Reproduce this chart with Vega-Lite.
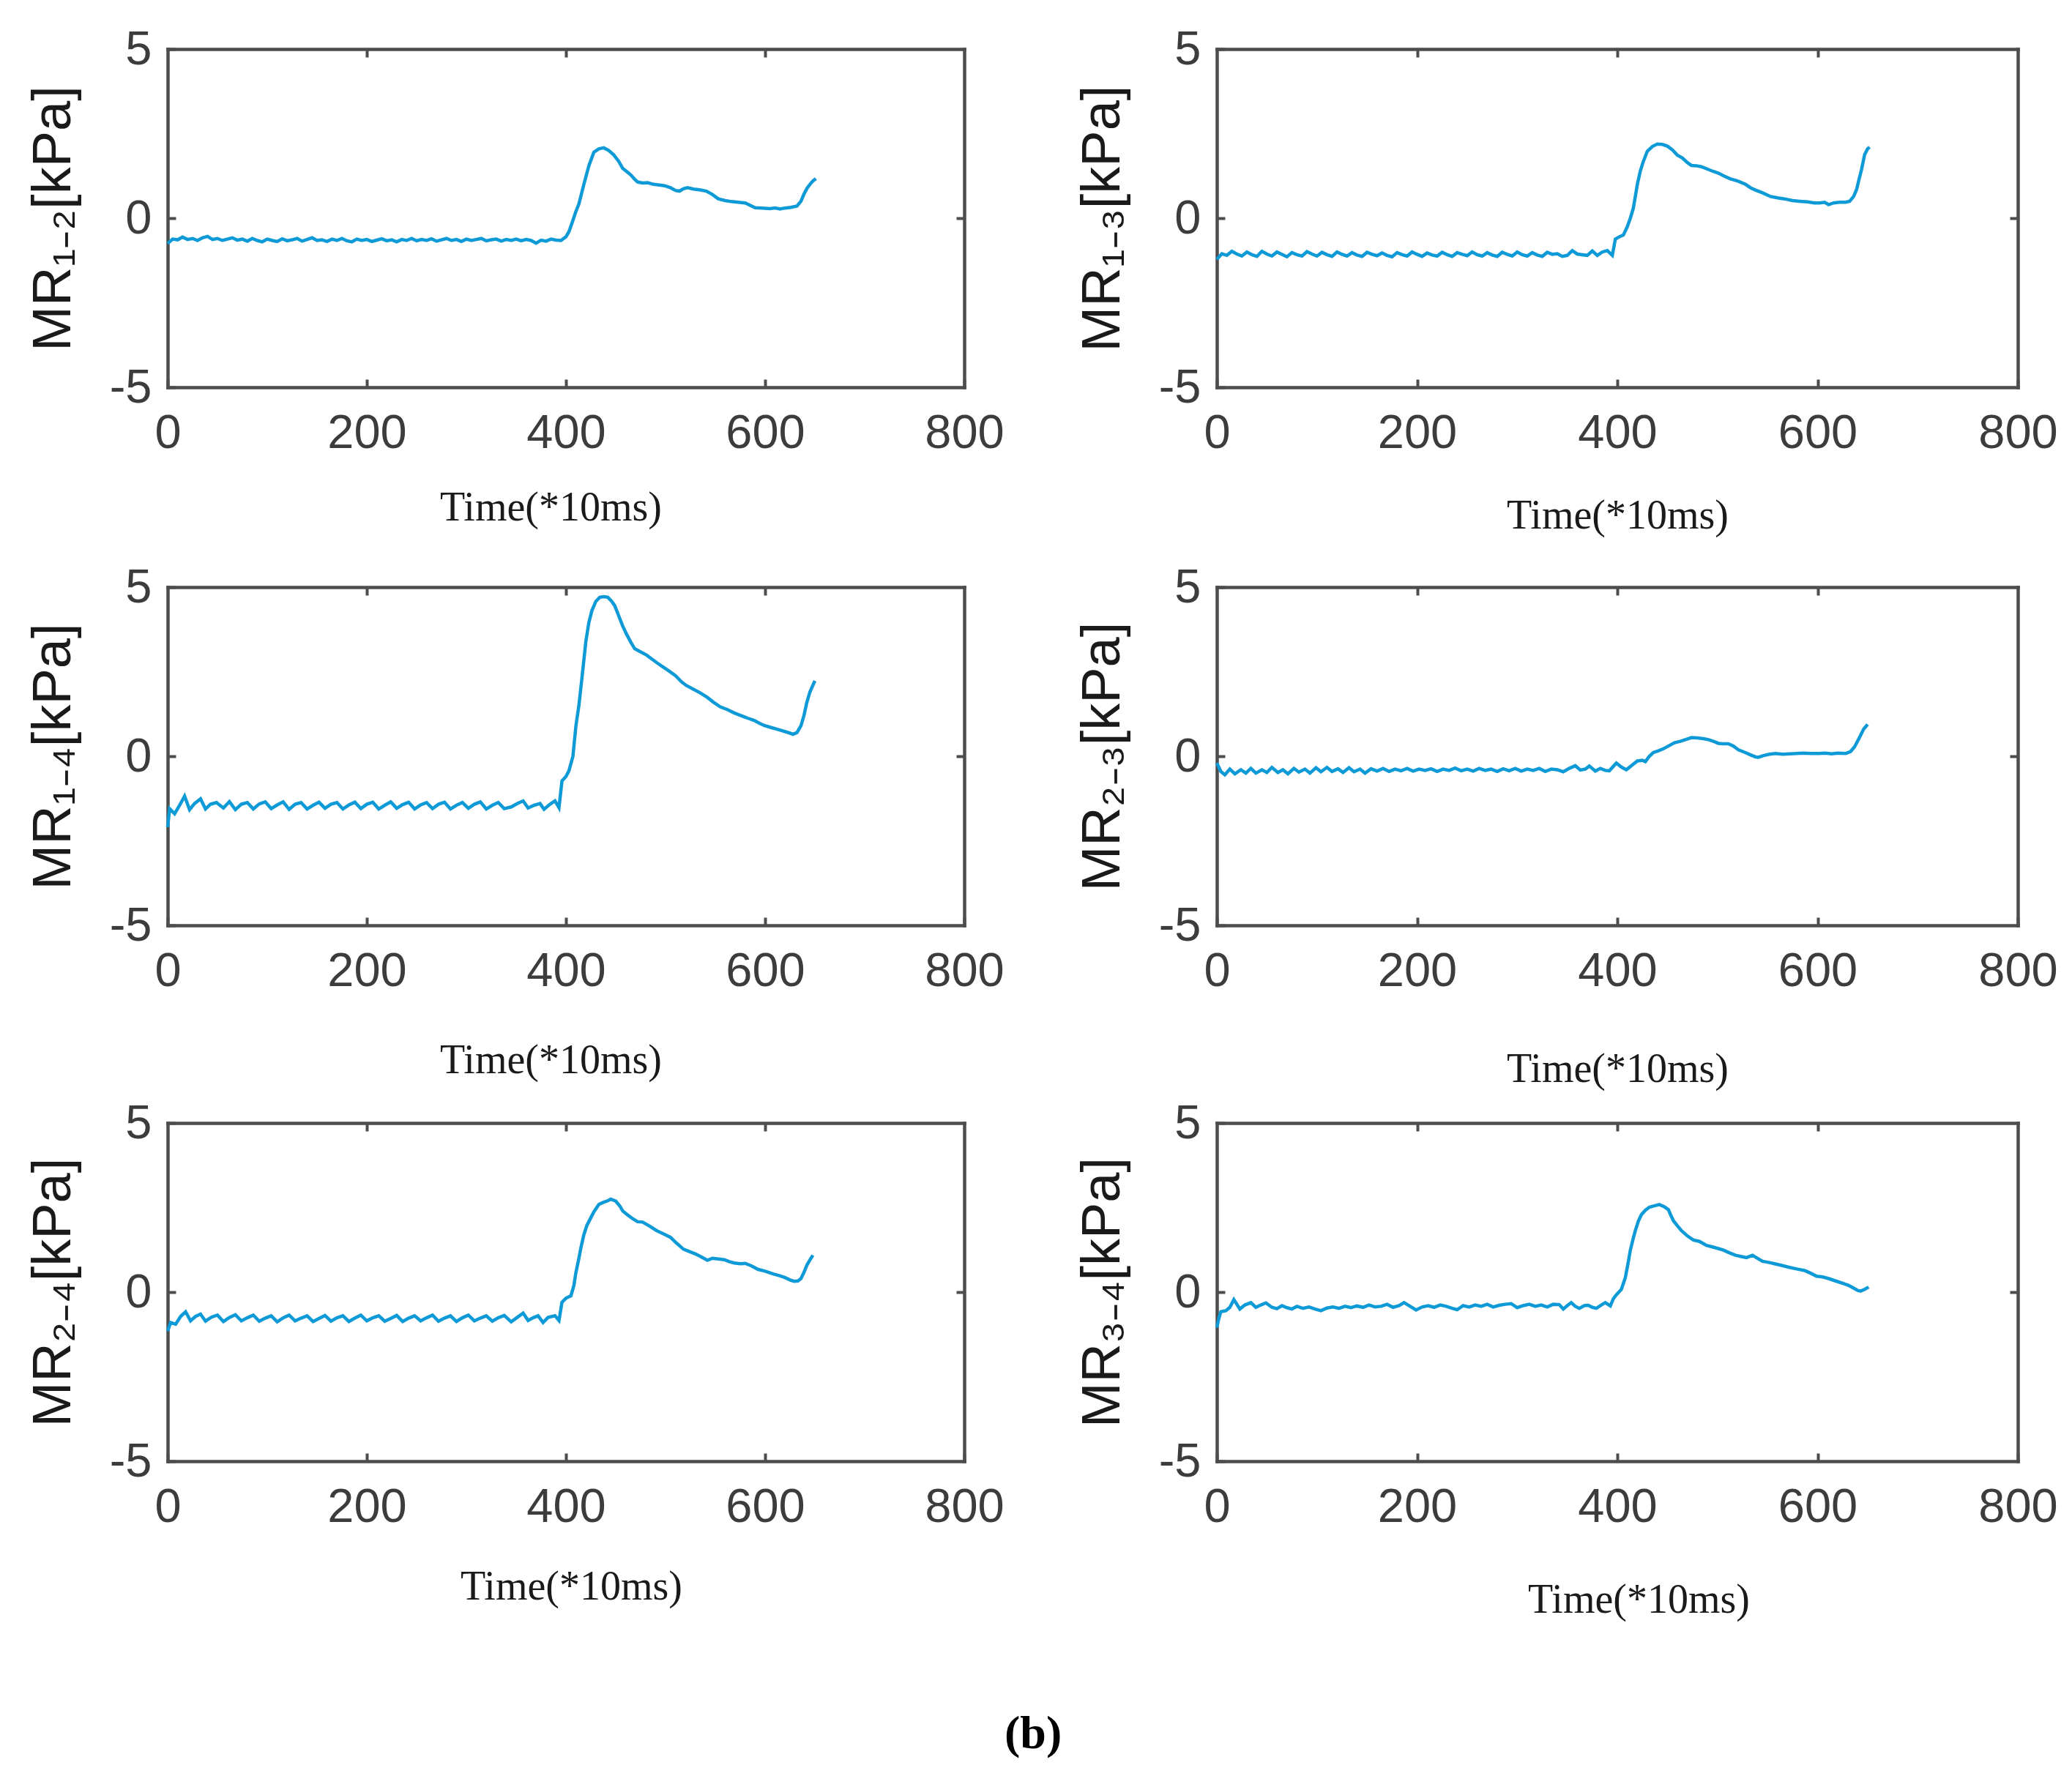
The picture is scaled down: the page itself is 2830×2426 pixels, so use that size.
{
  "$schema": "https://vega.github.io/schema/vega-lite/v6.json",
  "padding": {"left": 35, "top": 35, "right": 10, "bottom": 10},
  "background": "white",
  "title": {"text": "(b)", "orient": "bottom", "anchor": "middle", "font": "Liberation Serif", "fontSize": 64, "fontWeight": "bold", "color": "#000000", "offset": 124, "dx": -12},
  "spacing": 14,
  "vconcat": [
    {
      "spacing": 38,
      "vconcat": [
        {
          "spacing": 96,
          "hconcat": [
            {
              "width": 1088, "height": 462,
              "data": {"name": "d12"},
              "layer": [
                {"mark": {"type": "line", "color": "#0e9ad7", "strokeWidth": 4.5},
                 "encoding": {
                   "x": {"field": "t", "type": "quantitative", "scale": {"domain": [0, 800], "nice": false}, "axis": {"orient": "bottom", "title": "Time(*10ms)", "values": [0, 200, 400, 600, 800], "titleX": 523, "titleY": 164}},
                   "y": {"field": "v", "type": "quantitative", "scale": {"domain": [-5, 5], "nice": false}, "axis": {"orient": "left", "title": "MR₁₋₂[kPa]", "values": [-5, 0, 5], "titleX": -156}}}},
                {"mark": {"type": "line", "strokeOpacity": 0},
                 "encoding": {
                   "x": {"field": "t", "type": "quantitative", "axis": {"orient": "top", "labels": false, "title": null, "values": [200, 400, 600]}},
                   "y": {"field": "v", "type": "quantitative", "axis": {"orient": "right", "labels": false, "title": null, "values": [0]}}}}
              ],
              "resolve": {"axis": {"x": "independent", "y": "independent"}}
            },
            {
              "width": 1094, "height": 462,
              "data": {"name": "d13"},
              "layer": [
                {"mark": {"type": "line", "color": "#0e9ad7", "strokeWidth": 4.5},
                 "encoding": {
                   "x": {"field": "t", "type": "quantitative", "scale": {"domain": [0, 800], "nice": false}, "axis": {"orient": "bottom", "title": "Time(*10ms)", "values": [0, 200, 400, 600, 800], "titleX": 547, "titleY": 175}},
                   "y": {"field": "v", "type": "quantitative", "scale": {"domain": [-5, 5], "nice": false}, "axis": {"orient": "left", "title": "MR₁₋₃[kPa]", "values": [-5, 0, 5], "titleX": -156}}}},
                {"mark": {"type": "line", "strokeOpacity": 0},
                 "encoding": {
                   "x": {"field": "t", "type": "quantitative", "axis": {"orient": "top", "labels": false, "title": null, "values": [200, 400, 600]}},
                   "y": {"field": "v", "type": "quantitative", "axis": {"orient": "right", "labels": false, "title": null, "values": [0]}}}}
              ],
              "resolve": {"axis": {"x": "independent", "y": "independent"}}
            }
          ]
        },
        {
          "spacing": 96,
          "hconcat": [
            {
              "width": 1088, "height": 462,
              "data": {"name": "d14"},
              "layer": [
                {"mark": {"type": "line", "color": "#0e9ad7", "strokeWidth": 4.5},
                 "encoding": {
                   "x": {"field": "t", "type": "quantitative", "scale": {"domain": [0, 800], "nice": false}, "axis": {"orient": "bottom", "title": "Time(*10ms)", "values": [0, 200, 400, 600, 800], "titleX": 523, "titleY": 184}},
                   "y": {"field": "v", "type": "quantitative", "scale": {"domain": [-5, 5], "nice": false}, "axis": {"orient": "left", "title": "MR₁₋₄[kPa]", "values": [-5, 0, 5], "titleX": -156}}}},
                {"mark": {"type": "line", "strokeOpacity": 0},
                 "encoding": {
                   "x": {"field": "t", "type": "quantitative", "axis": {"orient": "top", "labels": false, "title": null, "values": [200, 400, 600]}},
                   "y": {"field": "v", "type": "quantitative", "axis": {"orient": "right", "labels": false, "title": null, "values": [0]}}}}
              ],
              "resolve": {"axis": {"x": "independent", "y": "independent"}}
            },
            {
              "width": 1094, "height": 462,
              "data": {"name": "d23"},
              "layer": [
                {"mark": {"type": "line", "color": "#0e9ad7", "strokeWidth": 4.5},
                 "encoding": {
                   "x": {"field": "t", "type": "quantitative", "scale": {"domain": [0, 800], "nice": false}, "axis": {"orient": "bottom", "title": "Time(*10ms)", "values": [0, 200, 400, 600, 800], "titleX": 547, "titleY": 196}},
                   "y": {"field": "v", "type": "quantitative", "scale": {"domain": [-5, 5], "nice": false}, "axis": {"orient": "left", "title": "MR₂₋₃[kPa]", "values": [-5, 0, 5], "titleX": -156}}}},
                {"mark": {"type": "line", "strokeOpacity": 0},
                 "encoding": {
                   "x": {"field": "t", "type": "quantitative", "axis": {"orient": "top", "labels": false, "title": null, "values": [200, 400, 600]}},
                   "y": {"field": "v", "type": "quantitative", "axis": {"orient": "right", "labels": false, "title": null, "values": [0]}}}}
              ],
              "resolve": {"axis": {"x": "independent", "y": "independent"}}
            }
          ]
        }
      ]
    },
    {
      "spacing": 96,
      "hconcat": [
        {
          "width": 1088, "height": 462,
          "data": {"name": "d24"},
          "layer": [
            {"mark": {"type": "line", "color": "#0e9ad7", "strokeWidth": 4.5},
             "encoding": {
               "x": {"field": "t", "type": "quantitative", "scale": {"domain": [0, 800], "nice": false}, "axis": {"orient": "bottom", "title": "Time(*10ms)", "values": [0, 200, 400, 600, 800], "titleX": 551, "titleY": 171}},
               "y": {"field": "v", "type": "quantitative", "scale": {"domain": [-5, 5], "nice": false}, "axis": {"orient": "left", "title": "MR₂₋₄[kPa]", "values": [-5, 0, 5], "titleX": -156}}}},
            {"mark": {"type": "line", "strokeOpacity": 0},
             "encoding": {
               "x": {"field": "t", "type": "quantitative", "axis": {"orient": "top", "labels": false, "title": null, "values": [200, 400, 600]}},
               "y": {"field": "v", "type": "quantitative", "axis": {"orient": "right", "labels": false, "title": null, "values": [0]}}}}
          ],
          "resolve": {"axis": {"x": "independent", "y": "independent"}}
        },
        {
          "width": 1094, "height": 462,
          "data": {"name": "d34"},
          "layer": [
            {"mark": {"type": "line", "color": "#0e9ad7", "strokeWidth": 4.5},
             "encoding": {
               "x": {"field": "t", "type": "quantitative", "scale": {"domain": [0, 800], "nice": false}, "axis": {"orient": "bottom", "title": "Time(*10ms)", "values": [0, 200, 400, 600, 800], "titleX": 576, "titleY": 189}},
               "y": {"field": "v", "type": "quantitative", "scale": {"domain": [-5, 5], "nice": false}, "axis": {"orient": "left", "title": "MR₃₋₄[kPa]", "values": [-5, 0, 5], "titleX": -156}}}},
            {"mark": {"type": "line", "strokeOpacity": 0},
             "encoding": {
               "x": {"field": "t", "type": "quantitative", "axis": {"orient": "top", "labels": false, "title": null, "values": [200, 400, 600]}},
               "y": {"field": "v", "type": "quantitative", "axis": {"orient": "right", "labels": false, "title": null, "values": [0]}}}}
          ],
          "resolve": {"axis": {"x": "independent", "y": "independent"}}
        }
      ]
    }
  ],
  "datasets": {
    "d12": [
      {"t":0,"v":-0.75},{"t":5,"v":-0.62},{"t":10,"v":-0.64},{"t":15,"v":-0.56},{"t":20,"v":-0.63},{"t":25,"v":-0.6},{"t":30,"v":-0.66},{"t":35,"v":-0.58},{"t":40,"v":-0.54},{"t":45,"v":-0.63},
      {"t":50,"v":-0.6},{"t":55,"v":-0.66},{"t":60,"v":-0.62},{"t":65,"v":-0.58},{"t":70,"v":-0.65},{"t":75,"v":-0.62},{"t":80,"v":-0.68},{"t":85,"v":-0.6},{"t":90,"v":-0.66},{"t":95,"v":-0.7},
      {"t":100,"v":-0.62},{"t":105,"v":-0.66},{"t":110,"v":-0.69},{"t":115,"v":-0.61},{"t":120,"v":-0.67},{"t":125,"v":-0.64},{"t":130,"v":-0.6},{"t":135,"v":-0.68},{"t":140,"v":-0.63},{"t":145,"v":-0.58},
      {"t":150,"v":-0.66},{"t":155,"v":-0.64},{"t":160,"v":-0.69},{"t":165,"v":-0.62},{"t":170,"v":-0.66},{"t":175,"v":-0.6},{"t":180,"v":-0.67},{"t":185,"v":-0.7},{"t":190,"v":-0.62},{"t":195,"v":-0.66},
      {"t":200,"v":-0.63},{"t":205,"v":-0.69},{"t":210,"v":-0.65},{"t":215,"v":-0.61},{"t":220,"v":-0.67},{"t":225,"v":-0.64},{"t":230,"v":-0.7},{"t":235,"v":-0.63},{"t":240,"v":-0.66},{"t":245,"v":-0.6},
      {"t":250,"v":-0.67},{"t":255,"v":-0.63},{"t":260,"v":-0.66},{"t":265,"v":-0.61},{"t":270,"v":-0.68},{"t":275,"v":-0.64},{"t":280,"v":-0.6},{"t":285,"v":-0.66},{"t":290,"v":-0.63},{"t":295,"v":-0.69},
      {"t":300,"v":-0.62},{"t":305,"v":-0.66},{"t":310,"v":-0.63},{"t":315,"v":-0.6},{"t":320,"v":-0.67},{"t":325,"v":-0.64},{"t":330,"v":-0.62},{"t":335,"v":-0.68},{"t":340,"v":-0.63},{"t":345,"v":-0.66},
      {"t":350,"v":-0.62},{"t":355,"v":-0.67},{"t":360,"v":-0.63},{"t":365,"v":-0.66},{"t":370,"v":-0.74},{"t":375,"v":-0.65},{"t":380,"v":-0.68},{"t":385,"v":-0.62},{"t":390,"v":-0.65},{"t":395,"v":-0.66},
      {"t":400,"v":-0.55},{"t":403,"v":-0.4},{"t":406,"v":-0.15},{"t":410,"v":0.2},{"t":413,"v":0.42},{"t":418,"v":1.0},{"t":423,"v":1.55},{"t":428,"v":1.95},{"t":433,"v":2.05},{"t":438,"v":2.08},
      {"t":443,"v":2.0},{"t":448,"v":1.87},{"t":453,"v":1.68},{"t":457,"v":1.47},{"t":461,"v":1.38},{"t":465,"v":1.28},{"t":469,"v":1.15},{"t":472,"v":1.07},{"t":477,"v":1.04},{"t":482,"v":1.05},
      {"t":488,"v":1.0},{"t":494,"v":0.98},{"t":499,"v":0.96},{"t":505,"v":0.9},{"t":510,"v":0.82},{"t":514,"v":0.8},{"t":518,"v":0.87},{"t":522,"v":0.9},{"t":528,"v":0.86},{"t":534,"v":0.84},
      {"t":541,"v":0.8},{"t":547,"v":0.7},{"t":553,"v":0.57},{"t":560,"v":0.52},{"t":566,"v":0.49},{"t":573,"v":0.47},{"t":580,"v":0.45},{"t":585,"v":0.38},{"t":590,"v":0.31},{"t":597,"v":0.3},
      {"t":605,"v":0.28},{"t":610,"v":0.3},{"t":615,"v":0.27},{"t":620,"v":0.3},{"t":626,"v":0.32},{"t":632,"v":0.36},{"t":636,"v":0.5},{"t":639,"v":0.71},{"t":642,"v":0.88},{"t":645,"v":1.0},
      {"t":648,"v":1.1},{"t":651,"v":1.17}
    ],
    "d13": [
      {"t":0,"v":-1.22},{"t":5,"v":-1.05},{"t":10,"v":-1.1},{"t":15,"v":-0.98},{"t":20,"v":-1.06},{"t":25,"v":-1.12},{"t":30,"v":-1.0},{"t":35,"v":-1.08},{"t":40,"v":-1.13},{"t":45,"v":-0.98},
      {"t":50,"v":-1.06},{"t":55,"v":-1.12},{"t":60,"v":-1.0},{"t":65,"v":-1.07},{"t":70,"v":-1.14},{"t":75,"v":-1.02},{"t":80,"v":-1.08},{"t":85,"v":-1.12},{"t":90,"v":-0.99},{"t":95,"v":-1.06},
      {"t":100,"v":-1.12},{"t":105,"v":-1.01},{"t":110,"v":-1.08},{"t":115,"v":-1.13},{"t":120,"v":-1.0},{"t":125,"v":-1.07},{"t":130,"v":-1.12},{"t":135,"v":-1.02},{"t":140,"v":-1.09},{"t":145,"v":-1.13},
      {"t":150,"v":-1.01},{"t":155,"v":-1.07},{"t":160,"v":-1.11},{"t":165,"v":-1.03},{"t":170,"v":-1.1},{"t":175,"v":-1.14},{"t":180,"v":-1.02},{"t":185,"v":-1.08},{"t":190,"v":-1.12},{"t":195,"v":-1.0},
      {"t":200,"v":-1.07},{"t":205,"v":-1.13},{"t":210,"v":-1.03},{"t":215,"v":-1.09},{"t":220,"v":-1.12},{"t":225,"v":-1.01},{"t":230,"v":-1.08},{"t":235,"v":-1.13},{"t":240,"v":-1.02},{"t":245,"v":-1.07},
      {"t":250,"v":-1.11},{"t":255,"v":-1.0},{"t":260,"v":-1.08},{"t":265,"v":-1.12},{"t":270,"v":-1.02},{"t":275,"v":-1.09},{"t":280,"v":-1.13},{"t":285,"v":-1.01},{"t":290,"v":-1.07},{"t":295,"v":-1.12},
      {"t":300,"v":-1.0},{"t":305,"v":-1.08},{"t":310,"v":-1.12},{"t":315,"v":-1.02},{"t":320,"v":-1.09},{"t":325,"v":-1.13},{"t":330,"v":-1.01},{"t":335,"v":-1.07},{"t":340,"v":-1.05},{"t":345,"v":-1.13},
      {"t":350,"v":-1.1},{"t":355,"v":-0.96},{"t":360,"v":-1.06},{"t":365,"v":-1.08},{"t":370,"v":-1.1},{"t":375,"v":-0.97},{"t":380,"v":-1.1},{"t":385,"v":-1.0},{"t":390,"v":-0.96},{"t":395,"v":-1.1},
      {"t":398,"v":-0.62},{"t":402,"v":-0.55},{"t":406,"v":-0.5},{"t":410,"v":-0.25},{"t":413,"v":0.0},{"t":416,"v":0.3},{"t":420,"v":1.0},{"t":423,"v":1.4},{"t":426,"v":1.68},{"t":430,"v":1.98},
      {"t":435,"v":2.12},{"t":440,"v":2.19},{"t":445,"v":2.18},{"t":450,"v":2.13},{"t":455,"v":2.02},{"t":460,"v":1.86},{"t":465,"v":1.78},{"t":470,"v":1.64},{"t":474,"v":1.56},{"t":479,"v":1.55},
      {"t":484,"v":1.52},{"t":490,"v":1.45},{"t":496,"v":1.38},{"t":501,"v":1.33},{"t":507,"v":1.24},{"t":513,"v":1.16},{"t":520,"v":1.1},{"t":528,"v":1.0},{"t":533,"v":0.9},{"t":538,"v":0.83},
      {"t":545,"v":0.75},{"t":553,"v":0.64},{"t":560,"v":0.6},{"t":567,"v":0.57},{"t":575,"v":0.52},{"t":582,"v":0.5},{"t":590,"v":0.48},{"t":597,"v":0.45},{"t":602,"v":0.45},{"t":607,"v":0.47},
      {"t":611,"v":0.4},{"t":616,"v":0.45},{"t":622,"v":0.47},{"t":628,"v":0.47},{"t":632,"v":0.5},{"t":636,"v":0.64},{"t":639,"v":0.85},{"t":641,"v":1.1},{"t":644,"v":1.45},{"t":647,"v":1.88},
      {"t":650,"v":2.05},{"t":652,"v":2.1}
    ],
    "d14": [
      {"t":0,"v":-2.1},{"t":2,"v":-1.55},{"t":7,"v":-1.7},{"t":12,"v":-1.45},{"t":17,"v":-1.18},{"t":22,"v":-1.58},{"t":27,"v":-1.4},{"t":33,"v":-1.26},{"t":38,"v":-1.56},{"t":43,"v":-1.42},
      {"t":49,"v":-1.37},{"t":56,"v":-1.53},{"t":62,"v":-1.34},{"t":68,"v":-1.58},{"t":74,"v":-1.42},{"t":80,"v":-1.37},{"t":86,"v":-1.56},{"t":92,"v":-1.41},{"t":98,"v":-1.35},{"t":104,"v":-1.55},
      {"t":110,"v":-1.44},{"t":116,"v":-1.35},{"t":122,"v":-1.57},{"t":128,"v":-1.42},{"t":134,"v":-1.37},{"t":140,"v":-1.56},{"t":146,"v":-1.45},{"t":152,"v":-1.36},{"t":158,"v":-1.54},{"t":164,"v":-1.42},
      {"t":170,"v":-1.37},{"t":176,"v":-1.56},{"t":182,"v":-1.44},{"t":188,"v":-1.36},{"t":194,"v":-1.55},{"t":200,"v":-1.42},{"t":206,"v":-1.36},{"t":212,"v":-1.56},{"t":218,"v":-1.45},{"t":224,"v":-1.35},
      {"t":230,"v":-1.54},{"t":236,"v":-1.43},{"t":242,"v":-1.36},{"t":248,"v":-1.56},{"t":254,"v":-1.44},{"t":260,"v":-1.37},{"t":266,"v":-1.55},{"t":272,"v":-1.42},{"t":278,"v":-1.36},{"t":284,"v":-1.56},
      {"t":290,"v":-1.45},{"t":296,"v":-1.37},{"t":302,"v":-1.54},{"t":308,"v":-1.42},{"t":314,"v":-1.35},{"t":320,"v":-1.56},{"t":326,"v":-1.45},{"t":332,"v":-1.37},{"t":338,"v":-1.55},{"t":345,"v":-1.5},
      {"t":351,"v":-1.4},{"t":357,"v":-1.32},{"t":362,"v":-1.53},{"t":368,"v":-1.45},{"t":374,"v":-1.4},{"t":378,"v":-1.57},{"t":384,"v":-1.42},{"t":389,"v":-1.32},{"t":393,"v":-1.52},{"t":396,"v":-0.73},
      {"t":400,"v":-0.6},{"t":403,"v":-0.43},{"t":407,"v":0.0},{"t":410,"v":0.9},{"t":413,"v":1.5},{"t":416,"v":2.3},{"t":420,"v":3.4},{"t":423,"v":3.95},{"t":426,"v":4.3},{"t":430,"v":4.58},
      {"t":434,"v":4.7},{"t":438,"v":4.72},{"t":442,"v":4.7},{"t":446,"v":4.58},{"t":449,"v":4.45},{"t":453,"v":4.15},{"t":457,"v":3.85},{"t":461,"v":3.6},{"t":465,"v":3.38},{"t":469,"v":3.18},
      {"t":474,"v":3.1},{"t":481,"v":2.99},{"t":486,"v":2.88},{"t":491,"v":2.77},{"t":497,"v":2.65},{"t":503,"v":2.53},{"t":510,"v":2.38},{"t":516,"v":2.2},{"t":521,"v":2.09},{"t":528,"v":1.98},
      {"t":535,"v":1.87},{"t":542,"v":1.74},{"t":548,"v":1.6},{"t":555,"v":1.46},{"t":562,"v":1.38},{"t":569,"v":1.28},{"t":576,"v":1.2},{"t":583,"v":1.12},{"t":589,"v":1.06},{"t":594,"v":0.98},
      {"t":599,"v":0.91},{"t":606,"v":0.85},{"t":614,"v":0.78},{"t":621,"v":0.72},{"t":628,"v":0.65},{"t":632,"v":0.7},{"t":636,"v":0.9},{"t":639,"v":1.2},{"t":642,"v":1.6},{"t":645,"v":1.9},
      {"t":648,"v":2.1},{"t":650,"v":2.23}
    ],
    "d23": [
      {"t":0,"v":-0.2},{"t":4,"v":-0.45},{"t":8,"v":-0.55},{"t":13,"v":-0.38},{"t":18,"v":-0.52},{"t":24,"v":-0.4},{"t":29,"v":-0.5},{"t":34,"v":-0.36},{"t":39,"v":-0.5},{"t":45,"v":-0.4},
      {"t":50,"v":-0.48},{"t":55,"v":-0.33},{"t":61,"v":-0.48},{"t":66,"v":-0.4},{"t":71,"v":-0.52},{"t":77,"v":-0.36},{"t":82,"v":-0.47},{"t":88,"v":-0.38},{"t":93,"v":-0.5},{"t":99,"v":-0.34},
      {"t":104,"v":-0.46},{"t":110,"v":-0.33},{"t":115,"v":-0.45},{"t":121,"v":-0.37},{"t":126,"v":-0.48},{"t":132,"v":-0.34},{"t":137,"v":-0.46},{"t":143,"v":-0.38},{"t":148,"v":-0.5},{"t":154,"v":-0.37},
      {"t":160,"v":-0.44},{"t":166,"v":-0.36},{"t":172,"v":-0.45},{"t":178,"v":-0.38},{"t":184,"v":-0.43},{"t":190,"v":-0.36},{"t":196,"v":-0.44},{"t":202,"v":-0.38},{"t":208,"v":-0.42},{"t":214,"v":-0.37},
      {"t":220,"v":-0.45},{"t":226,"v":-0.38},{"t":232,"v":-0.42},{"t":238,"v":-0.35},{"t":244,"v":-0.43},{"t":250,"v":-0.38},{"t":256,"v":-0.44},{"t":262,"v":-0.36},{"t":268,"v":-0.42},{"t":274,"v":-0.38},
      {"t":280,"v":-0.45},{"t":286,"v":-0.37},{"t":292,"v":-0.43},{"t":298,"v":-0.36},{"t":304,"v":-0.44},{"t":310,"v":-0.38},{"t":316,"v":-0.42},{"t":322,"v":-0.36},{"t":328,"v":-0.45},{"t":334,"v":-0.38},
      {"t":340,"v":-0.4},{"t":346,"v":-0.46},{"t":352,"v":-0.36},{"t":358,"v":-0.28},{"t":363,"v":-0.41},{"t":368,"v":-0.38},{"t":372,"v":-0.29},{"t":378,"v":-0.44},{"t":383,"v":-0.36},{"t":388,"v":-0.42},
      {"t":392,"v":-0.43},{"t":396,"v":-0.3},{"t":399,"v":-0.2},{"t":404,"v":-0.32},{"t":409,"v":-0.4},{"t":414,"v":-0.28},{"t":420,"v":-0.14},{"t":425,"v":-0.12},{"t":428,"v":-0.16},{"t":432,"v":0.0},
      {"t":436,"v":0.11},{"t":441,"v":0.16},{"t":446,"v":0.22},{"t":451,"v":0.3},{"t":457,"v":0.4},{"t":463,"v":0.44},{"t":469,"v":0.5},{"t":474,"v":0.55},{"t":480,"v":0.54},{"t":486,"v":0.52},
      {"t":491,"v":0.49},{"t":496,"v":0.44},{"t":501,"v":0.38},{"t":506,"v":0.37},{"t":511,"v":0.37},{"t":516,"v":0.3},{"t":521,"v":0.19},{"t":527,"v":0.12},{"t":533,"v":0.04},{"t":538,"v":-0.02},
      {"t":541,"v":-0.03},{"t":546,"v":0.02},{"t":552,"v":0.06},{"t":558,"v":0.08},{"t":565,"v":0.06},{"t":572,"v":0.07},{"t":579,"v":0.08},{"t":586,"v":0.09},{"t":593,"v":0.08},{"t":601,"v":0.08},
      {"t":608,"v":0.09},{"t":614,"v":0.07},{"t":620,"v":0.09},{"t":628,"v":0.08},{"t":633,"v":0.14},{"t":637,"v":0.28},{"t":640,"v":0.45},{"t":643,"v":0.62},{"t":646,"v":0.8},{"t":650,"v":0.94}
    ],
    "d24": [
      {"t":0,"v":-1.15},{"t":3,"v":-0.9},{"t":8,"v":-0.95},{"t":13,"v":-0.72},{"t":18,"v":-0.58},{"t":23,"v":-0.85},{"t":28,"v":-0.72},{"t":33,"v":-0.65},{"t":38,"v":-0.86},{"t":44,"v":-0.74},
      {"t":50,"v":-0.68},{"t":56,"v":-0.87},{"t":62,"v":-0.75},{"t":68,"v":-0.67},{"t":74,"v":-0.85},{"t":80,"v":-0.76},{"t":86,"v":-0.68},{"t":92,"v":-0.86},{"t":98,"v":-0.77},{"t":104,"v":-0.7},
      {"t":110,"v":-0.88},{"t":116,"v":-0.76},{"t":122,"v":-0.68},{"t":128,"v":-0.85},{"t":134,"v":-0.77},{"t":140,"v":-0.7},{"t":146,"v":-0.87},{"t":152,"v":-0.78},{"t":158,"v":-0.69},{"t":164,"v":-0.86},
      {"t":170,"v":-0.76},{"t":176,"v":-0.7},{"t":182,"v":-0.87},{"t":188,"v":-0.77},{"t":194,"v":-0.68},{"t":200,"v":-0.85},{"t":206,"v":-0.76},{"t":212,"v":-0.7},{"t":218,"v":-0.86},{"t":224,"v":-0.78},
      {"t":230,"v":-0.69},{"t":236,"v":-0.87},{"t":242,"v":-0.77},{"t":248,"v":-0.7},{"t":254,"v":-0.85},{"t":260,"v":-0.76},{"t":266,"v":-0.68},{"t":272,"v":-0.86},{"t":278,"v":-0.77},{"t":284,"v":-0.7},
      {"t":290,"v":-0.87},{"t":296,"v":-0.76},{"t":302,"v":-0.68},{"t":308,"v":-0.85},{"t":314,"v":-0.77},{"t":320,"v":-0.7},{"t":326,"v":-0.86},{"t":332,"v":-0.76},{"t":338,"v":-0.69},{"t":345,"v":-0.88},
      {"t":351,"v":-0.75},{"t":357,"v":-0.62},{"t":362,"v":-0.84},{"t":367,"v":-0.76},{"t":372,"v":-0.7},{"t":377,"v":-0.9},{"t":382,"v":-0.75},{"t":389,"v":-0.7},{"t":393,"v":-0.84},{"t":396,"v":-0.3},
      {"t":400,"v":-0.18},{"t":405,"v":-0.11},{"t":408,"v":0.2},{"t":410,"v":0.58},{"t":413,"v":1.0},{"t":415,"v":1.31},{"t":418,"v":1.7},{"t":421,"v":1.97},{"t":425,"v":2.2},{"t":428,"v":2.37},
      {"t":433,"v":2.59},{"t":438,"v":2.66},{"t":442,"v":2.7},{"t":445,"v":2.75},{"t":450,"v":2.69},{"t":454,"v":2.55},{"t":457,"v":2.4},{"t":462,"v":2.28},{"t":467,"v":2.17},{"t":472,"v":2.08},
      {"t":477,"v":2.07},{"t":484,"v":1.95},{"t":491,"v":1.82},{"t":498,"v":1.72},{"t":505,"v":1.62},{"t":511,"v":1.45},{"t":518,"v":1.27},{"t":524,"v":1.2},{"t":530,"v":1.13},{"t":536,"v":1.04},
      {"t":542,"v":0.94},{"t":547,"v":1.0},{"t":553,"v":0.98},{"t":559,"v":0.96},{"t":564,"v":0.9},{"t":569,"v":0.86},{"t":575,"v":0.84},{"t":580,"v":0.85},{"t":586,"v":0.78},{"t":593,"v":0.67},
      {"t":600,"v":0.62},{"t":608,"v":0.54},{"t":614,"v":0.49},{"t":620,"v":0.43},{"t":625,"v":0.36},{"t":629,"v":0.32},{"t":633,"v":0.33},{"t":636,"v":0.4},{"t":639,"v":0.58},{"t":642,"v":0.8},
      {"t":645,"v":0.95},{"t":648,"v":1.09}
    ],
    "d34": [
      {"t":0,"v":-1.05},{"t":2,"v":-0.78},{"t":4,"v":-0.58},{"t":9,"v":-0.55},{"t":13,"v":-0.45},{"t":17,"v":-0.22},{"t":23,"v":-0.5},{"t":28,"v":-0.38},{"t":34,"v":-0.31},{"t":39,"v":-0.45},
      {"t":44,"v":-0.38},{"t":49,"v":-0.32},{"t":55,"v":-0.45},{"t":60,"v":-0.49},{"t":65,"v":-0.4},{"t":70,"v":-0.46},{"t":75,"v":-0.5},{"t":80,"v":-0.42},{"t":86,"v":-0.48},{"t":92,"v":-0.44},
      {"t":98,"v":-0.5},{"t":104,"v":-0.55},{"t":110,"v":-0.47},{"t":116,"v":-0.44},{"t":122,"v":-0.48},{"t":128,"v":-0.42},{"t":134,"v":-0.46},{"t":140,"v":-0.41},{"t":146,"v":-0.45},{"t":152,"v":-0.38},
      {"t":158,"v":-0.44},{"t":164,"v":-0.42},{"t":170,"v":-0.36},{"t":176,"v":-0.45},{"t":182,"v":-0.4},{"t":187,"v":-0.31},{"t":193,"v":-0.42},{"t":199,"v":-0.53},{"t":205,"v":-0.44},{"t":211,"v":-0.4},
      {"t":217,"v":-0.45},{"t":223,"v":-0.38},{"t":229,"v":-0.42},{"t":235,"v":-0.48},{"t":240,"v":-0.52},{"t":246,"v":-0.4},{"t":252,"v":-0.44},{"t":258,"v":-0.38},{"t":264,"v":-0.42},{"t":270,"v":-0.36},
      {"t":276,"v":-0.44},{"t":282,"v":-0.39},{"t":288,"v":-0.36},{"t":294,"v":-0.34},{"t":300,"v":-0.46},{"t":306,"v":-0.4},{"t":312,"v":-0.36},{"t":318,"v":-0.42},{"t":324,"v":-0.38},{"t":330,"v":-0.44},
      {"t":336,"v":-0.36},{"t":342,"v":-0.37},{"t":346,"v":-0.5},{"t":350,"v":-0.4},{"t":354,"v":-0.31},{"t":358,"v":-0.42},{"t":362,"v":-0.48},{"t":367,"v":-0.4},{"t":371,"v":-0.39},{"t":375,"v":-0.45},
      {"t":379,"v":-0.48},{"t":384,"v":-0.38},{"t":388,"v":-0.31},{"t":393,"v":-0.41},{"t":396,"v":-0.2},{"t":399,"v":-0.08},{"t":404,"v":0.08},{"t":408,"v":0.43},{"t":411,"v":0.9},{"t":413,"v":1.24},
      {"t":416,"v":1.6},{"t":418,"v":1.82},{"t":421,"v":2.1},{"t":424,"v":2.29},{"t":428,"v":2.42},{"t":432,"v":2.51},{"t":437,"v":2.55},{"t":442,"v":2.59},{"t":447,"v":2.52},{"t":451,"v":2.44},
      {"t":453,"v":2.3},{"t":456,"v":2.11},{"t":460,"v":1.96},{"t":464,"v":1.82},{"t":470,"v":1.66},{"t":476,"v":1.54},{"t":482,"v":1.5},{"t":489,"v":1.38},{"t":497,"v":1.32},{"t":506,"v":1.24},
      {"t":512,"v":1.16},{"t":518,"v":1.09},{"t":524,"v":1.05},{"t":529,"v":1.02},{"t":535,"v":1.09},{"t":540,"v":1.0},{"t":545,"v":0.91},{"t":551,"v":0.88},{"t":557,"v":0.84},{"t":564,"v":0.79},
      {"t":572,"v":0.73},{"t":580,"v":0.68},{"t":587,"v":0.64},{"t":593,"v":0.56},{"t":599,"v":0.47},{"t":605,"v":0.45},{"t":611,"v":0.4},{"t":618,"v":0.33},{"t":626,"v":0.25},{"t":631,"v":0.2},
      {"t":636,"v":0.12},{"t":640,"v":0.05},{"t":643,"v":0.03},{"t":647,"v":0.08},{"t":651,"v":0.15}
    ]
  },
  "config": {
    "view": {"stroke": null},
    "axis": {
      "grid": false,
      "domainColor": "#4d4d4d",
      "domainWidth": 4.5,
      "domainCap": "square",
      "tickColor": "#4d4d4d",
      "tickWidth": 4,
      "tickSize": -11,
      "labelFont": "Liberation Sans Narrow, Liberation Sans",
      "labelFontSize": 65,
      "labelColor": "#3c3c3c",
      "labelFlush": false,
      "labelOverlap": false,
      "labelExpr": "replace(datum.label, '−', '-')",
      "titleFontWeight": "normal",
      "titleColor": "#1a1a1a",
      "titleBaseline": "middle"
    },
    "axisX": {"labelPadding": 42, "titleFont": "Liberation Serif", "titleFontSize": 56},
    "axisY": {"labelPadding": 33, "titleFont": "Liberation Sans", "titleFontSize": 74}
  }
}
